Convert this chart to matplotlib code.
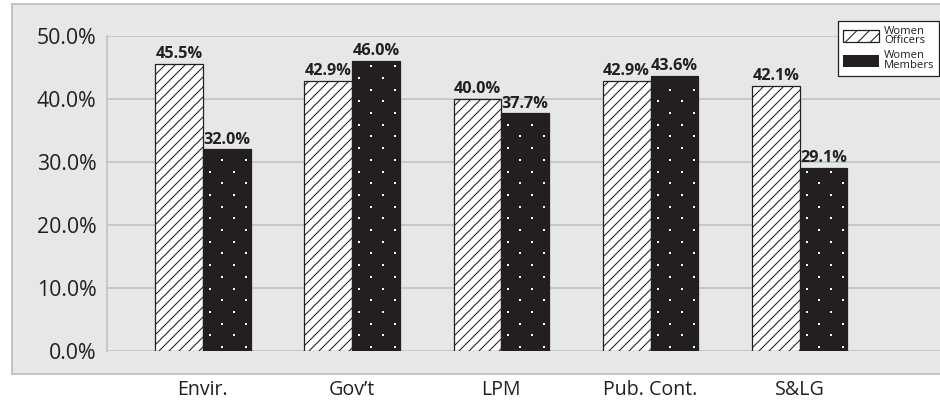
import matplotlib.pyplot as plt
import numpy as np
from matplotlib.patches import Rectangle, Patch
from matplotlib.transforms import IdentityTransform

# Share of women by section: officers vs. members
categories = ['Envir.', 'Gov\u2019t', 'LPM', 'Pub. Cont.', 'S&LG']
officers = [45.5, 42.9, 40.0, 42.9, 42.1]
members = [32.0, 46.0, 37.7, 43.6, 29.1]
yticks = [0, 10, 20, 30, 40, 50]

ink = '#231f20'
panel = '#e6e7e8'
rule = '#c0c2c4'

plt.rcParams['font.family'] = ['Open Sans', 'DejaVu Sans']
plt.rcParams['hatch.linewidth'] = 0.5

fig = plt.figure(figsize=(940 / 150, 405 / 150), dpi=150)

# grey panel behind the plot
fig.patches.append(Rectangle((12 / 940, 1 - 374 / 405), 1.0, (374 - 4) / 405,
                             transform=fig.transFigure, facecolor=panel,
                             edgecolor='#b9babc', linewidth=0.8, zorder=-1))

ax = fig.add_axes([107 / 940, 1 - 351 / 405, 1 - 107 / 940, (351 - 36) / 405])
ax.set_facecolor('none')
ax.set_xlim(-0.643, 4.94)
ax.set_ylim(0, 50)

x = np.arange(len(categories))
w = 0.32
b1 = ax.bar(x - w / 2, officers, w, facecolor='white', edgecolor=ink,
            linewidth=0.6, hatch='/////', zorder=3)
b2 = ax.bar(x + w / 2, members, w, facecolor=ink, edgecolor=ink,
            linewidth=0.6, zorder=3)

# sparse staggered white dots on the dark bars (pixel grid)
y_base = ax.transAxes.transform((0, 0))[1]
for r in b2:
    bb = r.get_window_extent()
    dx, dy = [], []
    j = 0
    yy = y_base + 4
    while yy < bb.y1 - 2:
        xx = bb.x0 + (7 if j % 2 else 19)
        while xx < bb.x1 - 2:
            dx.append(xx)
            dy.append(yy)
            xx += 24
        j += 1
        yy += 11.7
    ax.scatter(dx, dy, s=1.3, marker='s', color='white', linewidths=0,
               transform=IdentityTransform(), zorder=3.5)

for bars, vals in ((b1, officers), (b2, members)):
    for r, v in zip(bars, vals):
        ax.text(r.get_x() + r.get_width() / 2, v + 0.3, f'{v:.1f}%',
                ha='center', va='bottom', fontsize=7.8, fontweight='bold',
                color=ink, zorder=4)

ax.set_xlim(-0.643, 4.94)
ax.set_ylim(0, 50)
ax.set_yticks(yticks)
ax.set_yticklabels([f'{t:.1f}%' for t in yticks])
ax.set_xticks(x)
ax.set_xticklabels(categories)
ax.tick_params(axis='y', length=0, pad=5, labelsize=10.2, labelcolor=ink)
ax.tick_params(axis='x', length=0, pad=14, labelsize=9.4, labelcolor=ink)
ax.grid(axis='y', color=rule, linewidth=0.8, zorder=1)
for s in ('top', 'right', 'bottom'):
    ax.spines[s].set_visible(False)
ax.spines['left'].set_color(rule)
ax.spines['left'].set_linewidth(0.8)

handles = [Patch(facecolor='white', edgecolor=ink, linewidth=0.6, hatch='////'),
           Patch(facecolor=ink, edgecolor='white', linewidth=0, hatch='.')]
leg = ax.legend(handles, ['Women\nOfficers', 'Women\nMembers'],
                loc='upper left', bbox_to_anchor=(838 / 940, 1 - 21 / 405),
                bbox_transform=fig.transFigure, fontsize=5.4, frameon=True,
                fancybox=False, edgecolor=ink, framealpha=1,
                handlelength=3.2, handleheight=1.35, handletextpad=0.5,
                borderpad=0.4, labelspacing=0.35, borderaxespad=0)
leg.get_frame().set_linewidth(0.6)
for t in leg.get_texts():
    t.set_color(ink)
    t.set_linespacing(0.85)

fig.savefig('out.png', dpi=150)
